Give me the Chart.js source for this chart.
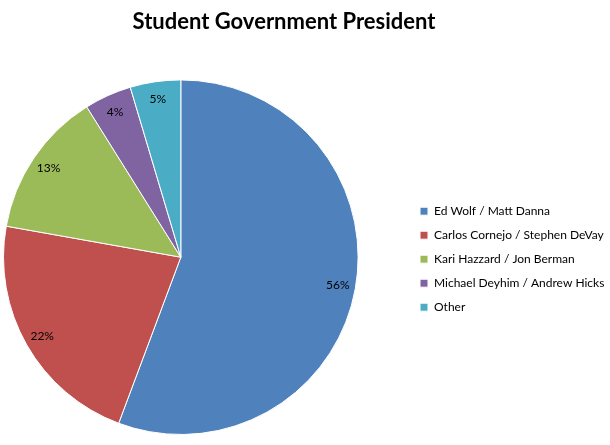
<!DOCTYPE html>
<html lang="en">
<head>
    <meta charset="UTF-8">
    <title>Student Government President</title>
    <script src="https://cdn.jsdelivr.net/npm/chart.js"></script>
    <style>
        html, body {
            margin: 0;
            padding: 0;
            background: #fff;
        }
        #wrap {
            width: 610px;
            height: 445px;
        }
    </style>
</head>
<body>
<div id="wrap">
    <canvas id="pieChart"></canvas>
</div>
<script>
    const candidates = ['Ed Wolf / Matt Danna', 'Carlos Cornejo / Stephen DeVay', 'Kari Hazzard / Jon Berman', 'Michael Deyhim / Andrew Hicks', 'Other'];
    const votes = [55.7, 22.1, 13.3, 4.3, 4.6];
    const sliceColors = ['#4F81BD', '#C0504D', '#9BBB59', '#8064A2', '#4BACC6'];

    // percent labels inside the slices, near the rim
    const percentLabels = {
        id: 'percentLabels',
        afterDatasetsDraw(chart) {
            const ctx = chart.ctx;
            const meta = chart.getDatasetMeta(0);
            const data = chart.data.datasets[0].data;
            const total = data.reduce((a, b) => a + b, 0);
            ctx.save();
            ctx.font = '12px Lato';
            ctx.fillStyle = '#000';
            ctx.textAlign = 'center';
            ctx.textBaseline = 'middle';
            meta.data.forEach((arc, i) => {
                const p = arc.getProps(['x', 'y', 'startAngle', 'endAngle', 'outerRadius']);
                const mid = (p.startAngle + p.endAngle) / 2;
                const r = p.outerRadius * 0.9;
                ctx.fillText(Math.round(data[i] / total * 100) + '%', p.x + Math.cos(mid) * r, p.y + Math.sin(mid) * r);
            });
            ctx.restore();
        }
    };

    // push the legend away from the pie, like Excel does
    const legendGap = {
        id: 'legendGap',
        afterLayout(chart) {
            const lg = chart.legend;
            const w = lg.width;
            lg.left = 408;
            lg.right = 408 + w;
            lg.top += 2;
            lg.bottom += 2;
        }
    };

    const ctx = document.getElementById('pieChart').getContext('2d');
    new Chart(ctx, {
        type: 'pie',
        data: {
            labels: candidates,
            datasets: [{
                data: votes,
                backgroundColor: sliceColors,
                borderColor: '#ffffff',
                borderWidth: 1
            }]
        },
        options: {
            responsive: true,
            maintainAspectRatio: false,
            animation: false,
            layout: {
                padding: { left: 0, right: 42, top: 0, bottom: 10 }
            },
            plugins: {
                title: {
                    display: true,
                    text: 'Student Government President',
                    color: '#000',
                    font: { family: 'Lato', size: 22, weight: 'bold' },
                    padding: { top: 9, bottom: 44 }
                },
                legend: {
                    position: 'right',
                    fullSize: false,
                    labels: {
                        boxWidth: 8,
                        boxHeight: 8,
                        padding: 12,
                        color: '#000',
                        font: { family: 'Lato', size: 12 }
                    }
                },
                tooltip: { enabled: false }
            }
        },
        plugins: [percentLabels, legendGap]
    });
</script>
</body>
</html>
